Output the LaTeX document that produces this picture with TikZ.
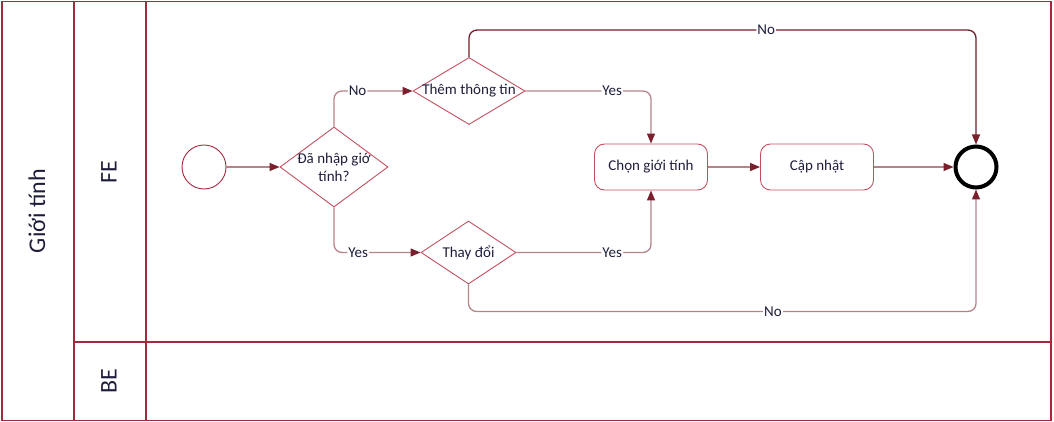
\documentclass[tikz,border=0pt]{standalone}
\usepackage{fontspec}
\setmainfont{Carlito}
\usetikzlibrary{shapes.geometric,arrows.meta}
\definecolor{frame}{HTML}{A3293D}
\definecolor{flow}{HTML}{B5848A}
\definecolor{flowdark}{HTML}{6E1E28}
\definecolor{tip}{HTML}{7A1F2B}
\definecolor{edge}{HTML}{C0505F}
\definecolor{ink}{HTML}{1E1E3C}
\tikzset{arrow/.style={-{Triangle[length=10pt,width=8pt,color=tip]}, draw=flow, line width=1.3pt, rounded corners=8pt}}
\tikzset{decision/.style={diamond, draw=edge, line width=0.9pt, inner sep=0pt, align=center}}
\tikzset{task/.style={rectangle, draw=edge, line width=0.9pt, rounded corners=10pt, minimum width=113pt, minimum height=46pt}}
\tikzset{cond/.style={fill=white, inner sep=1pt}}
\tikzset{lane/.style={rotate=90, font=\fontsize{24}{28}\selectfont}}
\newcommand{\dtxt}[1]{\makebox[0pt]{#1}}

\begin{document}
\begin{tikzpicture}[x=1pt, y=-1pt, font=\fontsize{15}{18}\selectfont, text=ink]
      \useasboundingbox (0,0) rectangle (1054,422);

      % pool and lanes
      \draw[frame, line width=1.5pt] (2,1.5) rectangle (1051,420.5);
      \draw[frame, line width=1.5pt] (74,1.5) -- (74,420.5);
      \draw[frame, line width=1.5pt] (146,1.5) -- (146,420.5);
      \draw[frame, line width=1.5pt] (74,342) -- (1051,342);

      \node[lane] (pool) at (37,211) {Giới tính};
      \node[lane] (fe) at (109,172) {FE};
      \node[lane] (be) at (109,381) {BE};

      \node[circle, draw=frame, line width=0.9pt, minimum size=44pt] (start) at (204,167) {};
      \node[decision, minimum width=108pt, minimum height=80pt] (d1) at (334,167) {\dtxt{Đã nhập giớ}\\\dtxt{tính?}};
      \node[decision, minimum width=112pt, minimum height=67pt] (d2) at (469,91) {\dtxt{Thêm thông tin}};
      \node[decision, minimum width=95pt, minimum height=63pt] (d3) at (468.5,252.5) {\dtxt{Thay đổi}};
      \node[task] (pick) at (651,167) {Chọn giới tính};
      \node[task] (save) at (817,167) {Cập nhật};
      \node[circle, draw=black, line width=4pt, minimum size=41pt] (end) at (976,167) {};

      \draw[arrow] (start) -- (d1);
      \draw[arrow] (d1.north) |- node[cond, pos=0.65] {No} (d2.west);
      \draw[arrow] (d1.south) |- node[cond, pos=0.64] {Yes} (d3.west);
      \draw[arrow] (d2.east) -| node[cond, pos=0.345] {Yes} (pick.north);
      \draw[arrow] (d3.east) -| node[cond, pos=0.356] {Yes} (pick.south);
      \draw[arrow, draw=flowdark] (d2.north) -- ++(0,-27) -| node[cond, pos=0.293] {No} (end.north);
      \draw[arrow] (d3.south) -- ++(0,27) -| node[cond, pos=0.3] {No} (end.south);
      \draw[arrow] (pick) -- (save);
      \draw[arrow] (save) -- (end);
    \end{tikzpicture}
\end{document}
